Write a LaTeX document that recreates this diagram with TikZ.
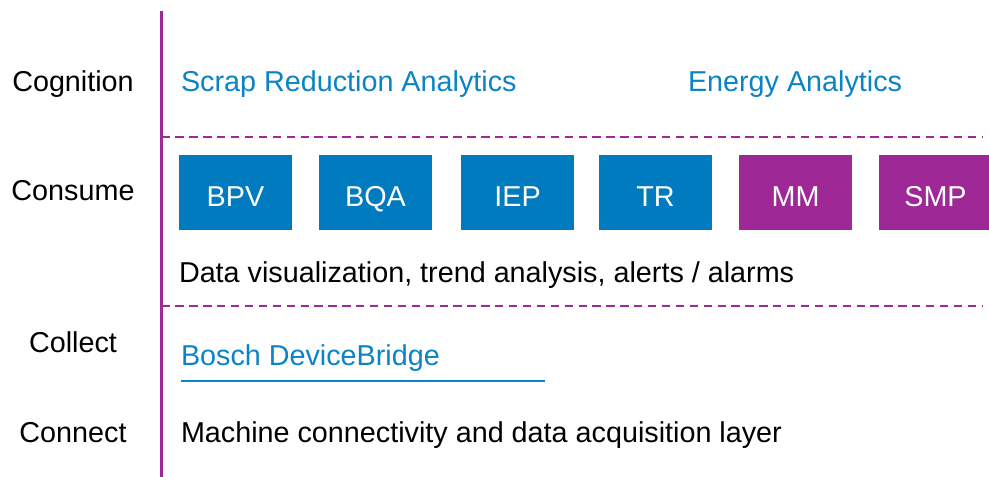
\documentclass[tikz,border=0pt]{standalone}
\usepackage{fontspec}
\setmainfont{Liberation Sans}
\definecolor{bblue}{HTML}{007BC0}
\definecolor{tblue}{HTML}{0A84C6}
\definecolor{bpurple}{HTML}{9E2896}
\begin{document}
\begin{tikzpicture}[x=1pt,y=-1pt,
  every node/.style={inner sep=0pt,outer sep=0pt,font=\fontsize{28.75}{34}\selectfont},
  layerlabel/.style={anchor=base,text=black},
  plaintext/.style={anchor=base west,text=black},
  bluetext/.style={anchor=base west,text=tblue},
  appbox/.style={rectangle,minimum width=113pt,minimum height=75pt,text height=27pt,text depth=0pt,text=white},
  bluebox/.style={appbox,fill=bblue},
  purplebox/.style={appbox,fill=bpurple},
  sepline/.style={bpurple,line width=2.2pt,dash pattern=on 8.3pt off 5.6pt},
  axisline/.style={bpurple,line width=2.2pt}]
\clip (0,0) rectangle (989,477);
\fill[white] (0,0) rectangle (989,477);
% left layer labels
\node[layerlabel] (lcog) at (73,91) {Cognition};
\node[layerlabel] (lcon) at (73,200) {Consume};
\node[layerlabel] (lcol) at (73,352) {Collect};
\node[layerlabel] (lcnt) at (73,442) {Connect};
% axis
\coordinate (atop) at (161.5,10.5);
\coordinate (abot) at (161.5,477);
\draw[axisline] (atop) -- (abot);
% separators
\coordinate (s1a) at (161.5,136.7);
\coordinate (s1b) at (982,136.7);
\coordinate (s2a) at (161.5,306);
\coordinate (s2b) at (982,306);
\draw[sepline] (s1a) -- (s1b);
\draw[sepline] (s2a) -- (s2b);
% cognition
\node[bluetext] (scrap) at (181,91) {Scrap Reduction Analytics};
\node[bluetext] (energy) at (688,91) {Energy Analytics};
% consume boxes
\node[bluebox] (bpv) at (235.5,192.5) {BPV};
\node[bluebox] (bqa) at (375.5,192.5) {BQA};
\node[bluebox] (iep) at (517.5,192.5) {IEP};
\node[bluebox] (tr) at (655.5,192.5) {TR};
\node[purplebox] (mm) at (795.5,192.5) {MM};
\node[purplebox] (smp) at (935.5,192.5) {SMP};
\node[plaintext] (dv) at (179,282) {Data visualization, trend analysis, alerts / alarms};
% collect
\node[bluetext] (bosch) at (181,365) {Bosch DeviceBridge};
\coordinate (ula) at (181,380.5);
\coordinate (ulb) at (545,380.5);
\draw[tblue,line width=2pt] (ula) -- (ulb);
% connect
\node[plaintext] (mach) at (181,442) {Machine connectivity and data acquisition layer};
\end{tikzpicture}
\end{document}
